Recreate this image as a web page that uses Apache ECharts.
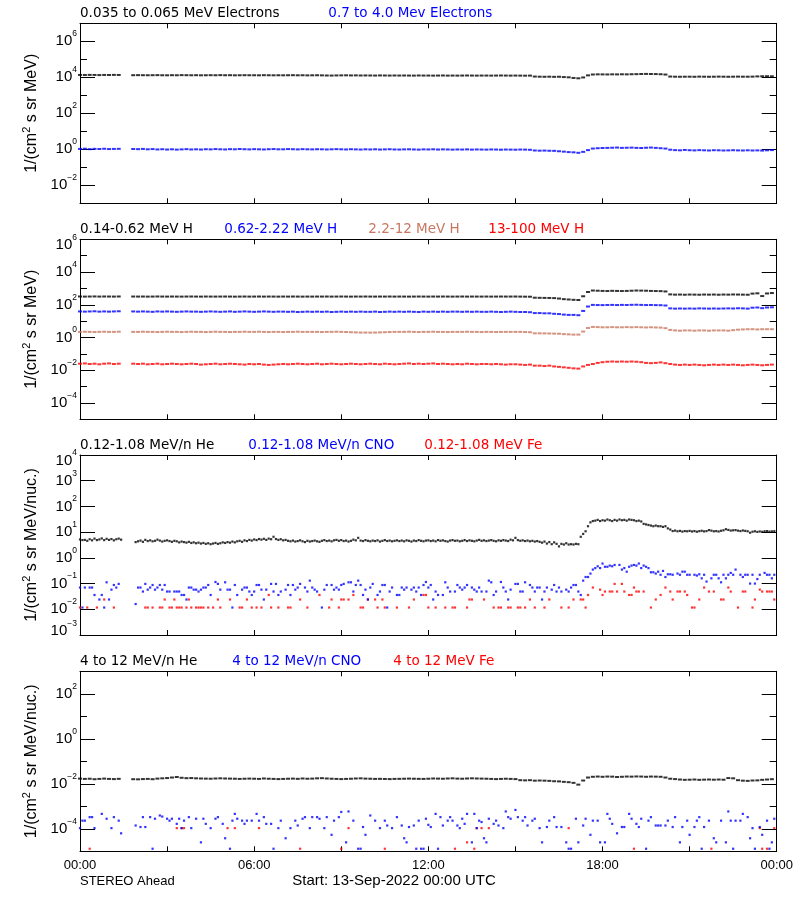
<!DOCTYPE html>
<html><head><meta charset="utf-8">
<script src="https://cdn.jsdelivr.net/npm/echarts@6/dist/echarts.min.js"></script>
<style>html,body{margin:0;padding:0;background:#fff}#c{width:800px;height:900px}</style>
</head><body><div id="c"></div>
<script>
const _ = null;
// ---------- 10-minute cadence series (slot i -> i/6 hours) ----------
const elecLow = [
13500,13400,13600,13500,13300,13500, 13400,13600,13500,_,_,13100,
13200,13100,13000,13100,13200,13000, 12900,13100,13000,13200,13100,13000,
13100,12900,13000,13100,13000,13200, 13000,13100,12900,13000,13100,13000,
13000,12900,13100,13000,12900,13000, 12900,13000,13100,12900,13000,12800,
12900,13000,12800,12600,12500,12700, 12800,12900,12700,12800,12600,12700,
12600,12500,12700,12600,12500,12600, 12500,12600,12500,12400,12600,12500,
12500,12400,12500,12600,12400,12500, 12400,12500,12600,12500,12400,12500,
12500,12400,12500,12600,12500,12400, 12500,12400,12300,12400,11000,10800,
10700,10800,10600,10700,10300,10000, 9200,8800,9800,12800,14300,14600,
14500,14400,14600,14500,14700,14600, 14800,15000,15200,15400,15300,15100,
14800,14200,11000,10800,10700,10800, 10800,10700,10900,10800,10700,10800,
10900,10800,10700,10800,10900,10800, 10800,10900,11200,11400,11500,11400];
const elecHigh = [
1.05,1.08,1.02,1.06,1.04,1.07, 1.03,1.05,1.06,_,_,1.04,
1.02,1.05,1.0,1.03,0.98,1.01, 0.97,1.0,0.96,0.99,1.02,0.98,
1.0,0.97,1.01,0.99,1.03,1.0, 0.98,1.02,1.0,1.04,1.01,0.99,
1.02,1.0,0.98,1.01,1.03,1.0, 1.0,1.03,1.01,0.99,1.02,1.0,
0.99,1.01,1.0,0.98,1.0,1.02, 1.0,0.98,1.01,0.99,0.97,1.0,
0.98,1.0,0.97,0.99,1.01,0.98, 0.97,0.99,1.0,0.98,0.96,0.99,
0.98,1.0,0.97,0.99,0.98,0.96, 0.98,0.97,0.99,0.96,0.98,0.97,
0.96,0.98,0.97,0.95,0.97,0.96, 0.95,0.97,0.96,0.94,0.86,0.84,
0.85,0.83,0.82,0.78,0.74,0.7, 0.68,0.64,0.72,0.9,1.1,1.15,
1.18,1.2,1.22,1.25,1.2,1.22, 1.24,1.2,1.18,1.22,1.25,1.2,
1.15,1.1,0.95,0.9,0.88,0.92, 0.89,0.87,0.9,0.88,0.86,0.89,
0.88,0.86,0.87,0.89,0.87,0.86, 0.88,0.86,0.87,0.85,0.88,0.9];
const protA = [
320,315,318,322,316,320, 318,316,320,_,_,318,
316,318,314,316,320,317, 315,318,316,314,317,319,
316,314,318,316,315,317, 318,316,313,316,318,315,
316,318,315,317,316,314, 317,315,318,316,314,316,
315,317,316,318,315,316, 318,316,314,317,316,318,
316,315,317,316,318,315, 317,316,314,316,318,316,
315,317,316,318,316,314, 316,318,315,317,316,315,
317,315,316,318,316,317, 318,315,312,310,270,265,
262,260,255,240,220,210, 200,195,330,600,740,720,
700,690,710,700,690,700, 720,740,730,720,700,690,
680,650,430,415,420,410, 420,415,410,420,415,420,
410,420,415,425,420,415, 410,480,500,340,490,520];
const protB = [
39,38,39,40,38,39, 38,39,40,_,_,39,
38,39,38,37,39,38, 39,38,37,38,39,38,
38,37,38,39,38,37, 38,39,37,38,39,38,
37,38,39,38,37,38, 38,37,38,36,37,38,
37,38,37,38,36,37, 38,37,38,37,38,37,
37,38,36,37,38,37, 38,37,38,37,36,38,
37,38,37,38,37,38, 38,37,38,37,38,37,
37,38,37,36,37,38, 37,36,36,35,31,31,
30,30,28,27,25,24, 24,23,42,78,98,96,
95,97,98,96,98,97, 99,100,98,96,97,95,
94,90,60,58,59,58, 59,58,60,59,58,59,
58,59,60,59,61,60, 58,66,68,62,68,70];
const protC = [
2.2,2.25,2.2,2.15,2.2,2.25, 2.2,2.2,2.25,_,_,2.2,
2.2,2.25,2.2,2.2,2.15,2.2, 2.25,2.2,2.2,2.15,2.2,2.25,
2.2,2.2,2.15,2.2,2.25,2.2, 2.2,2.15,2.2,2.2,2.25,2.2,
2.2,2.25,2.2,2.15,2.2,2.2, 2.15,2.2,2.2,2.25,2.2,2.2,
2.2,2.2,2.15,2.2,2.2,2.25, 2.2,2.15,2.1,2.05,2.0,2.0,
1.98,2.0,2.05,2.1,2.15,2.2, 2.2,2.2,2.25,2.2,2.15,2.2,
2.2,2.25,2.2,2.2,2.15,2.2, 2.2,2.2,2.25,2.2,2.2,2.15,
2.2,2.2,2.15,2.2,2.2,2.2, 2.2,2.2,2.15,2.1,1.8,1.8,
1.78,1.75,1.72,1.7,1.6,1.55, 1.5,1.5,2.3,3.8,4.4,4.3,
4.2,4.2,4.3,4.2,4.2,4.3, 4.2,4.3,4.2,4.1,4.2,4.1,
4.0,3.7,2.9,2.7,2.6,2.7, 2.7,2.6,2.7,2.7,2.6,2.7,
2.7,2.7,2.6,2.8,3.0,3.1, 3.2,3.2,3.1,3.2,3.2,3.2];
const protD = [
0.025,0.026,0.024,0.025,0.023,0.025, 0.026,0.024,0.025,_,_,0.025,
0.024,0.025,0.023,0.024,0.025,0.023, 0.024,0.025,0.024,0.023,0.024,0.025,
0.024,0.022,0.023,0.024,0.025,0.023, 0.024,0.025,0.024,0.023,0.022,0.024,
0.023,0.024,0.022,0.021,0.022,0.023, 0.024,0.023,0.024,0.025,0.024,0.023,
0.024,0.025,0.023,0.024,0.025,0.024, 0.023,0.024,0.025,0.024,0.023,0.024,
0.025,0.024,0.023,0.025,0.024,0.023, 0.024,0.025,0.026,0.024,0.025,0.024,
0.025,0.026,0.024,0.025,0.024,0.023, 0.024,0.023,0.025,0.024,0.023,0.024,
0.024,0.023,0.024,0.023,0.022,0.023, 0.023,0.022,0.021,0.022,0.019,0.019,
0.018,0.019,0.017,0.016,0.015,0.014, 0.013,0.0125,0.017,0.021,0.024,0.028,
0.031,0.033,0.034,0.033,0.034,0.033, 0.034,0.033,0.031,0.028,0.027,0.028,
0.030,0.027,0.024,0.022,0.021,0.022, 0.021,0.022,0.021,0.020,0.021,0.022,
0.021,0.022,0.021,0.022,0.021,0.020, 0.021,0.022,0.021,0.020,0.021,0.022];
const heHigh = [
0.017,0.0165,0.0168,0.016,0.0165,0.017, 0.0165,0.0162,0.0166,_,_,0.016,
0.0158,0.0162,0.0165,0.016,0.017,0.0175, 0.018,0.019,0.02,0.0185,0.0178,0.018,
0.0175,0.0172,0.017,0.0168,0.0172,0.0175, 0.0172,0.017,0.0168,0.0165,0.0168,0.017,
0.0168,0.0165,0.0172,0.0168,0.0165,0.0162, 0.0165,0.0168,0.017,0.0166,0.0172,0.0168,
0.017,0.0175,0.0178,0.0172,0.0168,0.0165, 0.0162,0.0165,0.0168,0.0172,0.0175,0.017,
0.0168,0.0165,0.0166,0.0164,0.0162,0.0165, 0.0166,0.0168,0.017,0.0168,0.0166,0.0165,
0.0168,0.0172,0.017,0.0168,0.0172,0.0175, 0.017,0.0168,0.0172,0.0175,0.0172,0.017,
0.0168,0.0165,0.0162,0.0165,0.0168,0.0165, 0.0162,0.0145,0.0142,0.0145,0.0138,0.014,
0.0138,0.0135,0.013,0.0128,0.0122,0.0118, 0.011,0.0092,0.014,0.019,0.0205,0.021,
0.0205,0.021,0.0208,0.02,0.0205,0.021, 0.0208,0.0212,0.021,0.0205,0.021,0.0208,
0.0205,0.019,0.0168,0.0162,0.0155,0.015, 0.0152,0.0155,0.015,0.0153,0.0155,0.0152,
0.0155,0.0152,0.018,0.0175,0.0145,0.0138, 0.0135,0.014,0.0142,0.015,0.0155,0.016];

// ---------- 5-minute cadence series (slot i -> i/12 hours) ----------
const heLow = [
5.2,4.9,5.0,4.6,5.3,4.8,5.6,4.9,5.2,5.7,4.9,5.5,
5.0,5.4,4.8,5.3,5.6,5.1,_,_,_,_,_,4.1,
4.4,4.7,4.2,5.0,4.5,4.8,4.4,4.6,5.1,4.7,4.3,4.6,
4.8,4.5,4.2,4.6,4.4,4.0,4.3,4.1,3.9,4.2,3.8,4.0,
3.7,3.9,3.6,3.8,3.5,3.7,3.4,3.6,3.8,3.5,3.7,4.0,
3.8,4.1,3.9,4.3,4.0,4.4,4.6,4.2,4.8,4.5,5.0,4.7,
5.2,4.9,5.4,5.1,5.5,5.0,5.6,5.3,6.6,5.4,5.0,5.3,
4.8,5.0,4.6,4.4,4.7,4.3,4.5,4.8,4.4,4.1,4.6,4.3,
4.5,4.7,4.4,4.2,4.6,4.9,4.5,4.7,4.4,4.8,5.0,4.6,
4.9,4.5,4.7,4.3,4.6,5.1,4.8,6.0,4.7,4.5,4.9,4.6,
4.4,4.7,4.5,4.8,4.3,4.6,4.9,4.5,4.7,4.4,4.6,4.8,
4.5,4.7,4.4,4.8,4.6,4.3,4.7,4.5,4.9,4.6,4.4,4.7,
4.8,4.5,4.7,4.4,4.9,4.6,4.8,4.5,4.3,4.7,4.9,4.6,
4.7,4.4,4.6,4.9,4.5,4.8,4.6,4.4,4.7,5.0,4.6,4.8,
4.5,4.7,4.9,4.6,4.4,4.8,4.6,4.9,4.7,4.5,5.1,4.8,
6.0,4.9,4.6,4.8,4.5,4.7,4.4,4.6,4.3,4.5,4.2,3.9,
4.3,3.6,4.1,3.4,4.0,3.5,2.8,3.5,3.3,3.7,3.3,3.4,
3.3,3.5,3.4,6.6,8.5,10.8,17,24,27,28,30,27,
29,28,31,29,27,30,28,31,29,30,28,31,
30,29,27,28,26,21,20,19,18,17,18,17,
17,16,17,14,12.6,11,11.5,10.8,11.2,10.5,11,10.8,
11.2,10.6,11,10.4,10.9,11.3,10.7,11,12,11.4,10.8,11,
10.6,11.3,11.8,13,12.2,11.5,11.8,12,11.4,11,11.6,11.2,
10.8,9.5,10.4,10.8,10.2,10.6,10.3,10.8,11,10.5,10.7,10.9];
const cnoLow = [
0.07,0.0117,0.07,_,0.07,0.07,0.036,_,0.024,0.036,0.0117,0.112,
0.024,0.058,0.088,0.07,0.097,_,_,_,_,_,_,0.016,
0.07,0.07,0.049,0.097,0.058,0.07,0.088,0.058,0.07,0.088,0.058,0.088,
0.049,0.049,_,0.049,0.049,0.049,0.036,0.036,0.024,0.07,0.07,0.058,
0.058,0.049,0.058,0.07,0.07,0.088,0.036,_,0.115,0.097,0.058,_,
0.112,0.058,0.058,0.0117,0.088,0.036,_,0.058,0.07,0.07,0.049,0.036,
0.049,0.088,0.088,0.058,0.024,0.058,_,0.097,0.049,0.097,0.036,0.049,
_,0.058,0.088,0.036,0.088,0.058,0.07,0.097,_,0.07,0.049,0.13,
0.07,0.058,0.049,_,0.0117,0.058,0.088,_,0.088,0.058,0.07,0.058,
0.088,0.097,_,0.112,0.112,0.049,0.088,0.13,0.088,0.036,0.058,0.024,
0.07,0.097,_,0.036,0.049,0.088,0.088,0.0117,0.049,0.07,_,0.036,
0.036,0.07,0.058,0.07,_,0.058,0.07,0.049,0.07,0.036,0.088,0.115,
0.07,0.088,0.024,0.049,0.036,_,0.036,0.112,0.07,0.049,_,0.049,
0.088,0.07,0.058,0.07,0.088,_,0.07,0.058,0.049,0.07,0.049,_,
0.049,0.13,0.112,0.036,0.049,_,0.115,0.07,0.049,0.024,0.058,_,
0.097,0.097,0.049,0.049,0.112,_,0.088,0.07,0.049,0.07,0.07,0.024,
0.049,0.07,_,0.058,0.088,0.049,0.07,0.049,_,0.058,0.049,0.07,
0.088,0.088,0.049,0.036,0.13,0.18,0.18,0.245,0.35,0.40,0.47,0.40,
0.60,0.45,0.45,0.50,0.47,0.53,_,0.53,0.35,0.40,0.29,0.45,
0.50,0.53,0.50,0.60,0.40,0.50,0.45,0.40,0.275,0.275,0.245,0.29,
0.22,0.31,0.18,0.23,0.23,0.22,_,0.245,0.22,0.29,0.29,0.22,
0.22,_,0.22,0.205,0.23,0.16,0.22,0.12,_,0.16,0.22,0.22,
0.16,0.112,0.22,0.16,0.22,0.26,0.22,0.35,_,0.22,0.18,0.22,
0.22,0.10,0.22,0.10,0.15,0.22,_,0.26,0.22,0.22,0.16,0.22];
// sparse [5-minute slot, value]
const feLow = [[0,0.0117],[3,0.0117],[7,0.0117],[10,0.024],[14,0.0117],[27,0.0117],[28,0.0117],[30,0.0117],[33,0.0117],[34,0.0117],[35,0.024],[37,0.0117],[38,0.0117],[39,0.024],[40,0.0117],[41,0.0117],[42,0.0117],[44,0.0117],[45,0.024],[46,0.0117],[48,0.0117],[49,0.0117],[50,0.0117],[51,0.0117],[53,0.0117],[55,0.0117],[57,0.024],[58,0.0117],[62,0.024],[66,0.0117],[67,0.0117],[69,0.024],[71,0.0117],[73,0.0117],[75,0.0117],[78,0.036],[79,0.0117],[82,0.0117],[86,0.0117],[87,0.0117],[91,0.024],[94,0.0117],[99,0.036],[103,0.0117],[104,0.024],[107,0.0117],[108,0.024],[109,0.024],[111,0.024],[113,0.036],[116,0.0117],[117,0.0117],[119,0.024],[122,0.024],[123,0.0117],[125,0.024],[126,0.0117],[131,0.0117],[136,0.0117],[138,0.024],[142,0.036],[143,0.036],[144,0.0117],[147,0.0117],[151,0.0117],[154,0.0117],[155,0.0117],[160,0.0117],[161,0.024],[162,0.024],[167,0.024],[171,0.0117],[173,0.0117],[174,0.0117],[177,0.0117],[178,0.0117],[181,0.0117],[182,0.0117],[184,0.0117],[186,0.024],[188,0.0117],[192,0.0117],[194,0.024],[199,0.0117],[202,0.0117],[204,0.024],[207,0.024],[208,0.024],[209,0.0117],[210,0.036],[212,0.07],[215,0.058],[216,0.036],[217,0.049],[219,0.049],[220,0.049],[221,0.097],[222,0.049],[224,0.097],[225,0.049],[227,0.036],[228,0.036],[229,0.07],[230,0.049],[231,0.049],[233,0.049],[236,0.0117],[238,0.024],[240,0.036],[242,0.07],[244,0.049],[245,0.024],[247,0.049],[248,0.049],[250,0.049],[251,0.036],[253,0.0117],[254,0.0117],[256,0.024],[258,0.07],[260,0.049],[262,0.049],[265,0.024],[266,0.024],[268,0.07],[269,0.049],[272,0.0117],[274,0.049],[275,0.049],[278,0.0117],[279,0.024],[281,0.058],[282,0.049],[284,0.049],[285,0.049],[286,0.049],[287,0.024]];
const cnoHigh = [[0,1.07e-4],[1,2.3e-4],[2,2.3e-4],[4,3.3e-4],[5,3.3e-4],[6,1.07e-4],[9,4.6e-4],[11,2.8e-4],[13,1.07e-4],[14,3.3e-4],[16,2.3e-4],[17,6.3e-5],[23,1.4e-4],[25,1.2e-4],[26,3.3e-4],[27,1.2e-4],[29,3.3e-4],[30,1.3e-5],[31,2.8e-4],[33,3.9e-4],[34,3.5e-4],[36,2.8e-4],[37,2.3e-4],[38,2.8e-4],[40,1.66e-4],[41,2.8e-4],[42,1.07e-4],[43,2.3e-4],[45,3.3e-4],[46,1.07e-4],[48,2.8e-4],[50,2.5e-5],[51,2.8e-4],[52,1.66e-4],[54,1.07e-4],[56,2.8e-4],[57,3.3e-4],[59,1.66e-4],[60,3.8e-5],[62,1.3e-5],[63,2.3e-4],[64,4.6e-4],[65,2.8e-4],[67,2.3e-4],[68,1.66e-4],[69,2.3e-4],[71,2.3e-4],[73,4.6e-4],[74,2.3e-4],[76,3.3e-4],[77,1.66e-4],[79,1.66e-4],[80,1.3e-5],[82,1.07e-4],[83,2.3e-4],[85,3.8e-5],[87,1.07e-4],[89,2.3e-4],[90,1.4e-4],[92,2.8e-4],[93,3.3e-4],[95,1.07e-4],[96,3.3e-4],[98,3.3e-4],[99,2.8e-4],[101,1.07e-4],[102,3.3e-4],[104,5.4e-5],[105,2.3e-4],[107,3.3e-4],[108,5.6e-4],[110,2.5e-5],[111,5.9e-4],[113,2.3e-4],[115,1.3e-5],[116,1.3e-5],[117,1.2e-4],[118,5.4e-5],[120,3.9e-4],[122,2.3e-4],[124,1.07e-4],[126,2.3e-4],[127,1.4e-4],[129,1.07e-4],[131,3.3e-4],[133,1.4e-4],[134,3.8e-5],[135,2.5e-5],[136,1.2e-4],[138,1.4e-4],[139,1.3e-5],[140,2.3e-4],[141,1.3e-5],[142,1.3e-5],[143,2.8e-4],[144,1.5e-4],[145,1.2e-4],[147,4.6e-4],[148,1.3e-5],[149,3.3e-4],[150,1.4e-4],[152,2.3e-4],[153,3.3e-4],[154,2.3e-4],[156,1.4e-4],[157,1.07e-4],[158,2.8e-4],[159,1.66e-4],[160,4.6e-4],[162,2.5e-5],[163,4.6e-4],[164,1.07e-4],[165,2.3e-4],[166,2.0e-4],[167,3.8e-5],[168,2.5e-5],[169,2.8e-4],[171,1.66e-4],[172,2.3e-4],[173,1.4e-4],[175,1.07e-4],[176,5.9e-4],[177,3.3e-4],[178,2.8e-4],[180,6.9e-4],[181,3.3e-4],[183,2.3e-4],[184,3.3e-4],[185,1.4e-4],[187,2.3e-4],[188,2.8e-4],[190,1.07e-4],[191,2.5e-5],[193,1.2e-4],[194,2.3e-4],[196,3.3e-4],[197,1.2e-4],[199,1.2e-4],[201,2.5e-5],[202,1.3e-5],[203,1.3e-5],[205,2.8e-4],[206,2.5e-5],[208,1.4e-4],[209,2.8e-4],[211,5.4e-5],[212,2.3e-4],[214,2.3e-4],[215,2.5e-5],[217,2.5e-5],[218,4.6e-4],[219,2.8e-4],[220,1.66e-4],[222,6.3e-5],[224,1.2e-4],[225,1.2e-4],[227,4.6e-4],[228,2.8e-4],[230,1.66e-4],[231,1.2e-4],[232,2.8e-4],[234,1.3e-5],[235,2.3e-4],[236,3.3e-4],[238,1.4e-4],[239,1.4e-4],[240,1.4e-4],[242,1.4e-4],[243,2.3e-4],[245,1.2e-4],[246,3.3e-4],[248,2.5e-5],[249,1.2e-4],[251,2.3e-4],[252,5.4e-5],[254,1.2e-4],[255,2.3e-4],[256,3.3e-4],[257,1.3e-5],[258,1.2e-4],[260,2.3e-4],[262,3.8e-5],[263,2.5e-5],[265,2.3e-4],[267,2.5e-5],[268,5.9e-4],[269,2.3e-4],[270,1.3e-5],[271,2.3e-4],[273,2.3e-4],[274,4.6e-4],[276,3.3e-4],[277,3.8e-5],[278,1.07e-4],[279,1.3e-5],[281,1.2e-4],[282,5.4e-5],[284,2.3e-4],[285,1.3e-5],[286,2.5e-5],[287,2.8e-4]];
const feHigh = [[4,1.3e-5],[40,1.07e-4],[42,1.07e-4],[43,1.07e-4],[61,1.07e-4],[64,1.07e-4],[74,1.07e-4],[91,1.3e-5],[108,1.3e-5],[111,1.07e-4],[126,1.3e-5],[155,1.3e-5],[160,2.5e-5],[163,1.3e-5],[164,1.07e-4],[166,1.07e-4],[169,1.07e-4],[202,1.07e-4],[229,1.3e-5],[261,1.3e-5],[281,1.07e-4],[282,1.3e-5],[284,1.3e-5],[287,1.07e-4]];

const xTickLabels = ['00:00','06:00','12:00','18:00','00:00'];
const xLabelHours = [0,6,12,18,24];

const titles = [
  [['0.035 to 0.065 MeV Electrons','#000000',80],['0.7 to 4.0 Mev Electrons','#0000ff',328.3]],
  [['0.14-0.62 MeV H','#000000',80],['0.62-2.22 MeV H','#0000ff',224.3],['2.2-12 MeV H','#c87860',368.3],['13-100 MeV H','#ff0000',488.3]],
  [['0.12-1.08 MeV/n He','#000000',80],['0.12-1.08 MeV/n CNO','#0000ff',248.3],['0.12-1.08 MeV Fe','#ff0000',424.3]],
  [['4 to 12 MeV/n He','#000000',80],['4 to 12 MeV/n CNO','#0000ff',232.3],['4 to 12 MeV Fe','#ff0000',393.3]]
];
const unitE = '1/(cm{s|2} s sr MeV)';
const unitN = '1/(cm{s|2} s sr MeV/nuc.)';

// ---------- layout ----------
const PL = 80, PW = 696.7, PH = 180;
const panels = [
  {top:23.3, min:1e-3, max:1e7, major:[-2,0,2,4,6], unit:unitE, titleY:13.3},
  {top:239.3, min:1e-5, max:1e6, major:[-4,-2,0,2,4,6], unit:unitE, titleY:229.3},
  {top:455, min:1e-3, max:1e4, major:[-3,-2,-1,0,1,2,3,4], unit:unitN, titleY:445},
  {top:671.3, min:1e-5, max:1e3, major:[-4,-2,0,2], unit:unitN, titleY:661}
];
const FONT = 'Liberation Sans';
function expStr(e){ return e < 0 ? '\u2212' + (-e) : '' + e; }
function yLabFor(p){
  return function(v){
    const e = Math.round(Math.log10(v)), es = expStr(e);
    if (Math.abs(v / p.max - 1) < 1e-6) return '{t|10}{ts|' + es + '}';
    if (Math.abs(v / p.min - 1) < 1e-6) return '{b|10}{bs|' + es + '}';
    return '10{s|' + es + '}';
  };
}
const labRich = {
  s:{fontSize:8.5, fontFamily:FONT, color:'#000', padding:[0,0,15,0]},
  t:{fontSize:15, fontFamily:FONT, color:'#000', padding:[11,0,0,0]},
  ts:{fontSize:8.5, fontFamily:FONT, color:'#000', padding:[0,0,4,0]},
  b:{fontSize:15, fontFamily:FONT, color:'#000', padding:[0,0,8,0]},
  bs:{fontSize:8.5, fontFamily:FONT, color:'#000', padding:[0,0,23,0]}
};

const grid = [], xAxis = [], yAxis = [], graphic = [];
panels.forEach((p, i) => {
  grid.push({left:PL, top:p.top, width:PW, height:PH, containLabel:false});
  const lo = Math.round(Math.log10(p.min)), hi = Math.round(Math.log10(p.max));
  const minor = []; for (let k = lo; k <= hi; k++) minor.push(Math.pow(10, k));
  const major = p.major.map(k => Math.pow(10, k));
  const axLine = {show:true, lineStyle:{color:'#000', width:1}};
  ['bottom','top'].forEach(pos => {
    xAxis.push({gridIndex:i, type:'value', min:0, max:24, interval:3, position:pos,
      axisLine:axLine, splitLine:{show:false},
      axisTick:{show:true, inside:true, length:5, lineStyle:{color:'#000'}},
      axisLabel:(i === 3 && pos === 'bottom') ? {show:true, customValues:xLabelHours,
        formatter:v => xTickLabels[xLabelHours.indexOf(Math.round(v))],
        color:'#000', fontSize:13, fontFamily:FONT, margin:8} : {show:false}});
  });
  ['left','right'].forEach(pos => {
    yAxis.push({gridIndex:i, type:'log', logBase:10, min:p.min, max:p.max, position:pos,
      axisLine:axLine, splitLine:{show:false}, minorTick:{show:false},
      axisTick:{show:true, inside:true, length:15, customValues:major, lineStyle:{color:'#000'}},
      axisLabel: pos === 'left' ? {show:true, customValues:major, formatter:yLabFor(p), color:'#000',
        fontSize:15, fontFamily:FONT, margin:3, rich:labRich} : {show:false},
      name: pos === 'left' ? p.unit : '', nameLocation:'middle', nameGap:36,
      nameTextStyle:{color:'#000', fontSize:16, fontFamily:FONT,
        rich:{s:{fontSize:11, fontFamily:FONT, color:'#000', padding:[0,0,10,0]}}}});
    yAxis.push({gridIndex:i, type:'log', logBase:10, min:p.min, max:p.max, position:pos,
      axisLine:{show:false}, splitLine:{show:false},
      axisTick:{show:true, inside:true, length:7, customValues:minor, lineStyle:{color:'#000'}},
      axisLabel:{show:false}});
  });
  titles[i].forEach(t => graphic.push({type:'text', x:t[2], y:p.titleY, silent:true,
    style:{text:t[0], fill:t[1], fontSize:13.5, fontFamily:'DejaVu Sans', verticalAlign:'middle', align:'left'}}));
});
graphic.push({type:'text', x:80, y:881, style:{text:'STEREO Ahead', fill:'#000', fontSize:13, fontFamily:FONT, verticalAlign:'middle'}});
graphic.push({type:'text', x:292.3, y:881, style:{text:'Start: 13-Sep-2022 00:00 UTC', fill:'#000', fontSize:15, fontFamily:FONT, verticalAlign:'middle'}});

function dense(arr, perHour){ return arr.map((v, i) => [i / perHour, v]).filter(d => d[1] != null); }
function sparse(arr){ return arr.map(d => [d[0] / 12, d[1]]); }
function ser(panel, data, color, size){
  return {type:'scatter', xAxisIndex:panel * 2, yAxisIndex:panel * 4, data:data,
    symbol:'rect', symbolSize:size, itemStyle:{color:color}, silent:true, animation:false};
}
const LINE = [4, 2], DOT = [2.2, 2.2];
const series = [
  ser(0, dense(elecLow, 6), '#000000', LINE),
  ser(0, dense(elecHigh, 6), '#0000ff', LINE),
  ser(1, dense(protA, 6), '#000000', LINE),
  ser(1, dense(protB, 6), '#0000ff', LINE),
  ser(1, dense(protC, 6), '#c87860', LINE),
  ser(1, dense(protD, 6), '#ff0000', LINE),
  ser(2, dense(heLow, 12), '#000000', DOT),
  ser(2, sparse(feLow), '#ff0000', DOT),
  ser(2, dense(cnoLow, 12), '#0000ff', DOT),
  ser(3, dense(heHigh, 6), '#000000', LINE),
  ser(3, sparse(feHigh), '#ff0000', DOT),
  ser(3, sparse(cnoHigh), '#0000ff', DOT)
];

const chart = echarts.init(document.getElementById('c'), null, {renderer:'canvas', width:800, height:900});
chart.setOption({backgroundColor:'#ffffff', animation:false, grid, xAxis, yAxis, series, graphic});
</script></body></html>
